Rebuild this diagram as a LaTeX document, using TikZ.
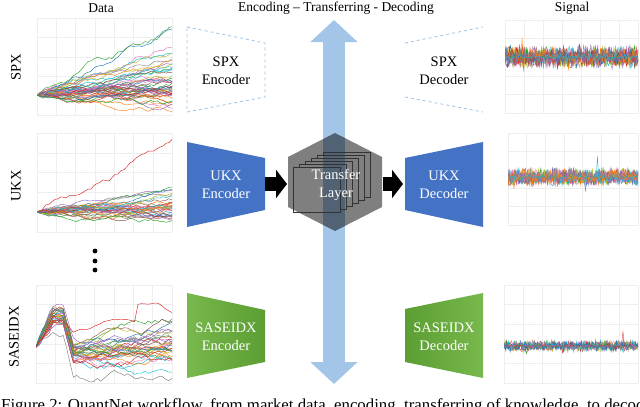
\documentclass[tikz,border=0pt]{standalone}
\usepackage{fontspec}
\setmainfont{Liberation Serif}
\usetikzlibrary{arrows.meta}
\definecolor{tab0}{HTML}{1F77B4}
\definecolor{tab1}{HTML}{FF7F0E}
\definecolor{tab2}{HTML}{2CA02C}
\definecolor{tab3}{HTML}{D62728}
\definecolor{tab4}{HTML}{9467BD}
\definecolor{tab5}{HTML}{8C564B}
\definecolor{tab6}{HTML}{E377C2}
\definecolor{tab7}{HTML}{7F7F7F}
\definecolor{tab8}{HTML}{BCBD22}
\definecolor{tab9}{HTML}{17BECF}
\definecolor{encblue}{HTML}{4472C4}
\definecolor{lightblue}{HTML}{9DC3E6}
\definecolor{arrowblue}{HTML}{A2C5E8}
\definecolor{greenL}{HTML}{78B84C}
\definecolor{greenD}{HTML}{5B9E33}
\tikzset{
  lbl/.style={font=\fontsize{14.5}{17.5}\selectfont, align=center, inner sep=0pt},
  title/.style={font=\fontsize{13.5}{16}\selectfont, inner sep=0pt},
  wtext/.style={lbl, text=white},
  gridl/.style={gray!13, line width=0.4pt},
  blockarrow/.style={line width=14pt, -{Triangle[length=11pt,width=28pt]}},
  bigarrow/.style={arrowblue, line width=22pt,
     {Triangle[length=22pt,width=46pt]}-{Triangle[length=22pt,width=46pt]}},
  sheet/.style={black!80, line width=0.6pt},
  sig/.style={line width=0.35pt},
}
\newcommand\chartgrid[4]{%
  \foreach \t in {0,...,7}{\draw[gridl] ({#1+\t*(#3-#1)/7},#2) -- ({#1+\t*(#3-#1)/7},#4);}
  \foreach \t in {0,...,5}{\draw[gridl] (#1,{#2+\t*(#4-#2)/5}) -- (#3,{#2+\t*(#4-#2)/5});}
}
% random walk: #1 colour, #2 steps, #3 x0, #4 dx, #5 y0, #6 sigma, #7 drift expression
\newcommand\rwalk[7]{%
  \gdef\wlist{}\xdef\wy{#5}%
  \foreach \i in {0,...,#2}{%
    \pgfmathsetmacro\wx{#3+\i*#4}%
    \xdef\wlist{\wlist (\wx,\wy)}%
    \pgfmathsetmacro\wyn{\wy+#6*rand+#7}%
    \xdef\wy{\wyn}%
  }%
  \edef\tmp{\noexpand\draw[#1,line width=0.45pt] plot coordinates {\wlist};}\tmp
}
\begin{document}
\begin{tikzpicture}[x={(1pt,0pt)}, y={(0pt,-1pt)}]
\useasboundingbox (0,0) rectangle (640,407);
\pgfmathsetseed{7}

% titles
\node[title] (tdata) at (101,8) {Data};
\node[title] (tmid) at (336,8) {Encoding -- Transferring - Decoding};
\node[title] (tsig) at (572,8) {Signal};

% row labels
\node[lbl, rotate=90] (rspx) at (16,67) {SPX};
\node[lbl, rotate=90] (rukx) at (16,186) {UKX};
\node[lbl, rotate=90] (rsas) at (14,337) {SASEIDX};

% ---------- data charts ----------
% SPX
\chartgrid{37}{18}{172}{115}
\begin{scope}
\clip (37,18) rectangle (172,115);
\foreach \k in {1,...,45}{
  \pgfmathtruncatemacro\ci{mod(\k,10)}
  \pgfmathsetmacro\dr{-1.1*rnd*rnd-0.2*rnd+0.1}
  \rwalk{tab\ci}{45}{37}{3.0}{95}{2.0}{\dr}
}
\rwalk{tab0}{45}{37}{3.0}{95}{2.5}{-1.45}
\rwalk{tab2}{45}{37}{3.0}{95}{2.5}{-1.35}
\rwalk{tab6}{45}{37}{3.0}{95}{2.5}{-1.2}
\end{scope}
% UKX
\chartgrid{37}{133}{172}{232}
\begin{scope}
\clip (37,133) rectangle (172,232);
\foreach \k in {1,...,34}{
  \pgfmathtruncatemacro\ci{mod(\k,10)}
  \pgfmathsetmacro\dr{-0.8*rnd*rnd-0.15*rnd+0.2}
  \rwalk{tab\ci}{45}{37}{3.0}{212}{1.7}{\dr}
}
\rwalk{tab3}{45}{37}{3.0}{212}{2.2}{-1.6}
\end{scope}
% dots
\fill (95,251) circle (2.4) (95,261) circle (2.4) (95,270) circle (2.4);
% SASEIDX
\chartgrid{36}{285}{172}{383}
\begin{scope}
\clip (36,285) rectangle (172,383);
\foreach \k in {1,...,34}{
  \pgfmathtruncatemacro\ci{mod(\k,10)}
  \pgfmathsetmacro\dr{-0.45*rnd+0.25}
  \rwalk{tab\ci}{40}{36}{3.4}{347}{3.0}{\dr+(\i<5)*(-6+2.5*rand)+(\i>=8)*(\i<11)*(12)-(\i>=11)*0.25}
}
\rwalk{tab3}{40}{36}{3.4}{347}{1.4}{(\i<5)*(-6)+(\i>=8)*(\i<11)*(4)-(\i>=11)*(\i<27)*0.8+(\i==29)*(-18)+(\i>=36)*2}
\end{scope}

% ---------- signal charts ----------
\chartgrid{505}{20}{638}{113}
\begin{scope}
\clip (505,20) rectangle (638,113);
\foreach \k in {0,...,9,1,3,4,5}{
  \draw[tab\k, sig] plot[domain=505:638, samples=150] (\x,{57+9*rand*(0.4+rnd)});
}
\foreach \k in {1,0,7,9}{
  \draw[tab\k, sig] plot[domain=505:638, samples=110] (\x,{57+50*rand*rand*rand*rand*rand});
}
\end{scope}
\chartgrid{508}{133}{638}{225}
\begin{scope}
\clip (508,133) rectangle (638,225);
\foreach \k in {0,...,9,4,4,1}{
  \draw[tab\k, sig] plot[domain=508:638, samples=150] (\x,{177+7*rand*(0.4+rnd)});
}
\foreach \k in {1,7,9}{
  \draw[tab\k, sig] plot[domain=508:638, samples=110] (\x,{177+40*rand*rand*rand*rand*rand});
}
\end{scope}
\chartgrid{504}{285}{638}{383}
\begin{scope}
\clip (504,285) rectangle (638,383);
\foreach \k in {1,...,9,0}{
  \draw[tab\k, sig] plot[domain=504:638, samples=150] (\x,{346+4.5*rand*(0.4+rnd)});
}
\draw[tab0, sig] plot[domain=504:638, samples=150] (\x,{346+4*rand});
\foreach \k in {2,6,4,3}{
  \draw[tab\k, sig] plot[domain=504:638, samples=90] (\x,{346+45*rand*rand*rand*rand*rand*rand*rand});
}
\end{scope}

% ---------- encoders ----------
\draw[lightblue, dashed, line width=0.8pt] (187,27) -- (265,43) -- (265,97) -- (187,112) -- cycle;
\node[lbl] (encspx) at (226,71) {SPX\\Encoder};
\fill[encblue] (187,142) -- (265,158) -- (265,210) -- (187,227) -- cycle;
\node[wtext] (encukx) at (226,185) {UKX\\Encoder};
\shade[left color=greenL, right color=greenD] (187,293) -- (265,310) -- (265,362) -- (187,378) -- cycle;
\node[wtext] (encsas) at (226,337) {SASEIDX\\Encoder};

% ---------- decoders ----------
\draw[lightblue, dashed, line width=0.8pt] (405,43) -- (483,27) (405,97) -- (483,112);
\node[lbl] (decspx) at (444,71) {SPX\\Decoder};
\fill[encblue] (405,158) -- (483,142) -- (483,227) -- (405,210) -- cycle;
\node[wtext] (decukx) at (444,185) {UKX\\Decoder};
\shade[left color=greenD, right color=greenL] (405,309) -- (483,293) -- (483,378) -- (405,362) -- cycle;
\node[wtext] (decsas) at (444,337) {SASEIDX\\Decoder};

% ---------- vertical arrow ----------
\coordinate (vtop) at (334,20);
\coordinate (vbot) at (334,384);
\draw[bigarrow] (vtop) -- (vbot);

% ---------- transfer layer ----------
\fill[black, opacity=0.5] (335,133) -- (382,157) -- (382,207) -- (335,231) -- (288,207) -- (288,157) -- cycle;
\draw[sheet] (293,167) rectangle (340,212);
\foreach \k in {1,...,5}{
  \draw[sheet] ({293+6*\k},{167-3*\k+3}) -- ({293+6*\k},{167-3*\k}) -- ({340+6*\k},{167-3*\k})
     -- ({340+6*\k},{212-3*\k}) -- ({334+6*\k},{212-3*\k});
}
\node[wtext] (tl) at (336,185) {Transfer\\Layer};

% ---------- block arrows ----------
\coordinate (a1s) at (265,184);
\coordinate (a1e) at (287,184);
\coordinate (a2s) at (383,184);
\coordinate (a2e) at (403,184);
\draw[blockarrow] (a1s) -- (a1e);
\draw[blockarrow] (a2s) -- (a2e);

% caption (cut off at the bottom, as in the reference)
\node[anchor=base west, font=\fontsize{16.8}{20}\selectfont, inner sep=0pt] (cap) at (1,410)
  {Figure 2: QuantNet workflow, from market data, encoding, transferring of knowledge, to decoding};
\end{tikzpicture}
\end{document}
